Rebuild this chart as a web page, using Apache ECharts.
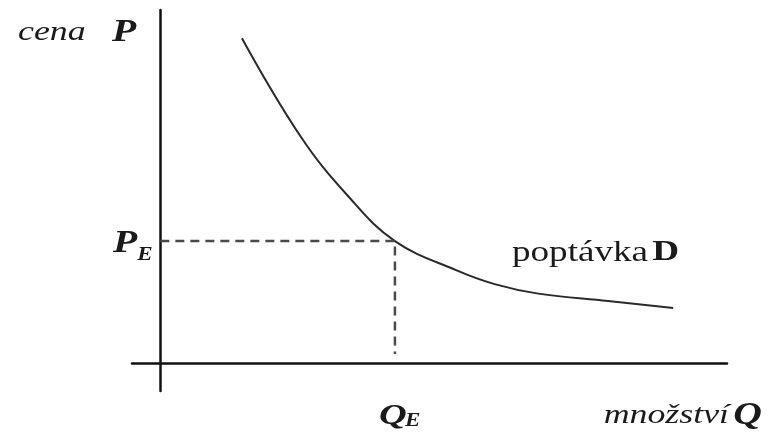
<!DOCTYPE html>
<html>
<head>
<meta charset="utf-8">
<script src="https://cdn.jsdelivr.net/npm/echarts@6/dist/echarts.min.js"></script>
<style>
  html, body { margin: 0; background: #fff; }
  #chart { width: 771px; height: 443px; }
</style>
</head>
<body>
<div id="chart"></div>
<script>
// poptávková křivka (množství Q, cena P)
const demandQ = [1.44, 2.47, 3.30, 4.14, 5.23, 5.90, 6.67, 7.90, 9.05]
const demandP = [9.20, 6.43, 4.75, 3.45, 2.62, 2.23, 1.96, 1.75, 1.55]
// rovnovážný bod
const eqQ = 4.14
const eqP = 3.45
const dropEnd = 0.25

const SERIF = '"Liberation Serif", "Times New Roman", serif'
// písmo v předloze je vodorovně roztažené
const STRETCH = 1.28

const chart = echarts.init(document.getElementById('chart'))

const axisCommon = {
  type: 'value',
  axisLine: { onZero: true, lineStyle: { color: '#111', width: 2.5 } },
  axisTick: { show: false },
  axisLabel: { show: false },
  splitLine: { show: false }
}

chart.setOption({
  animation: false,
  backgroundColor: '#fff',
  grid: { left: 132, right: 44, top: 10, bottom: 52 },
  xAxis: Object.assign({}, axisCommon, { min: -0.5, max: 10 }),
  yAxis: Object.assign({}, axisCommon, { min: -0.8, max: 10 }),
  series: [
    {
      name: 'poptávka',
      type: 'line',
      data: demandQ.map((q, i) => [q, demandP[i]]),
      smooth: 0.4,
      showSymbol: false,
      lineStyle: { color: '#2a2a2a', width: 2 }
    },
    {
      name: 'rovnováha',
      type: 'line',
      data: [[0, eqP], [eqQ, eqP], [eqQ, dropEnd]],
      showSymbol: false,
      lineStyle: { color: '#4a4a4a', width: 2.5, type: [9, 6] }
    }
  ]
})

// popisky vázané na souřadnice
const pE = chart.convertToPixel({ gridIndex: 0 }, [0, eqP])
const qE = chart.convertToPixel({ gridIndex: 0 }, [eqQ, 0])

const txt = (x, y, text, font, align) => ({
  type: 'text',
  x: x,
  y: y,
  scaleX: STRETCH,
  style: {
    text: text,
    font: font,
    fill: '#1a1a1a',
    align: align || 'left',
    verticalAlign: 'middle'
  }
})

chart.setOption({
  graphic: [
    txt(18, 33, 'cena', 'italic 28px ' + SERIF),
    txt(112, 33, 'P', 'italic bold 31px ' + SERIF),
    txt(pE[0] - 23, pE[1] + 3, 'P', 'italic bold 31px ' + SERIF, 'right'),
    txt(pE[0] - 23, pE[1] + 14, 'E', 'italic bold 18px ' + SERIF),
    txt(qE[0] - 16, qE[1] + 53, 'Q', 'italic bold 30px ' + SERIF),
    txt(qE[0] + 10, qE[1] + 59, 'E', 'italic bold 18px ' + SERIF),
    {
      type: 'text',
      x: 762,
      y: 416,
      scaleX: STRETCH,
      style: {
        text: '{a|množství} {b|Q}',
        align: 'right',
        verticalAlign: 'middle',
        rich: {
          a: { font: 'italic 28px ' + SERIF, fill: '#1a1a1a' },
          b: { font: 'italic bold 31px ' + SERIF, fill: '#1a1a1a' }
        }
      }
    },
    {
      type: 'text',
      x: 512,
      y: 253,
      scaleX: STRETCH,
      style: {
        text: '{a|poptávka} {b|D}',
        align: 'left',
        verticalAlign: 'middle',
        rich: {
          a: { font: '29px ' + SERIF, fill: '#1a1a1a' },
          b: { font: 'bold 29px ' + SERIF, fill: '#1a1a1a' }
        }
      }
    }
  ]
})

window.addEventListener('resize', () => chart.resize())
</script>
</body>
</html>
